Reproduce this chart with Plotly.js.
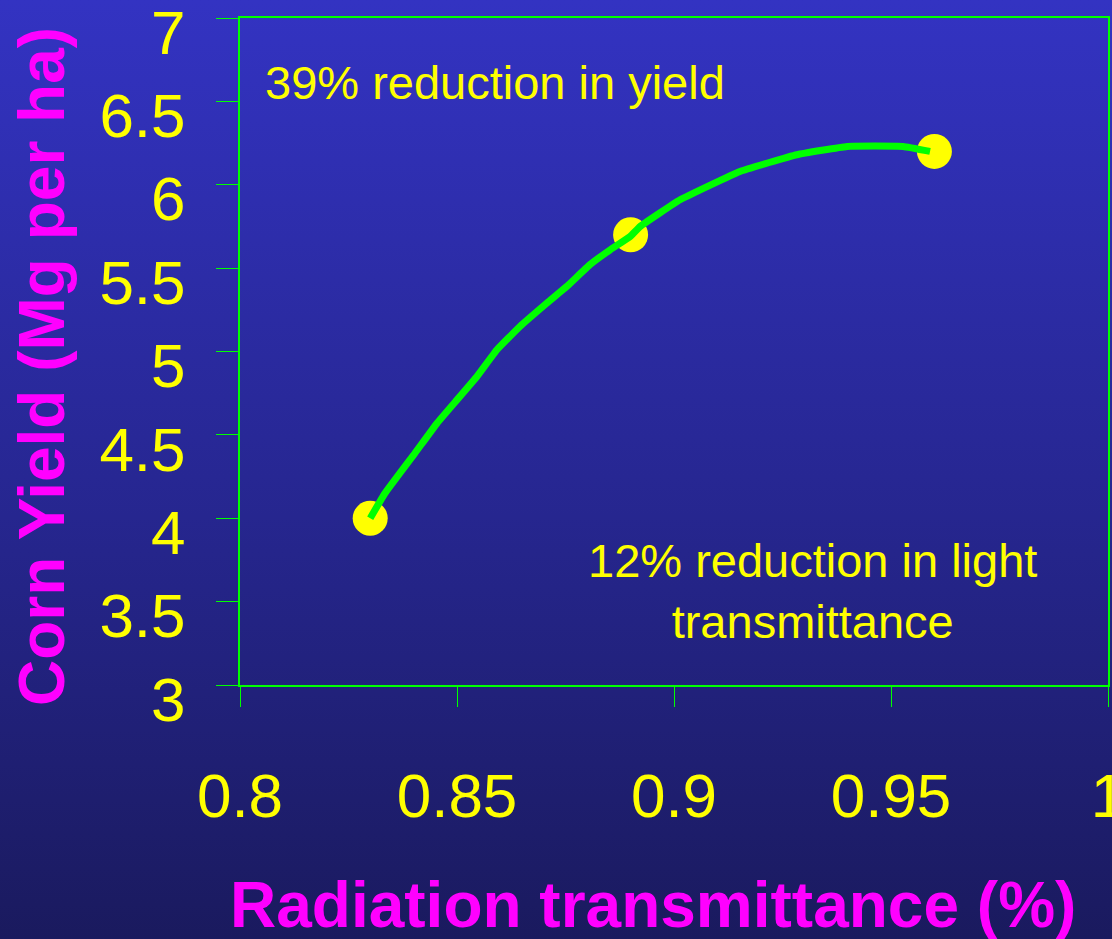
<!DOCTYPE html>
<html>
<head>
<meta charset="utf-8">
<script src="https://cdn.plot.ly/plotly-3.0.1.min.js"></script>
<style>
  html, body { margin: 0; padding: 0; width: 1112px; height: 939px; overflow: hidden; }
  body { background: linear-gradient(to bottom, #3333c2 0%, #26268f 55%, #1a1a5e 100%); }
  #chart { width: 1112px; height: 939px; }
</style>
</head>
<body>
<div id="chart"></div>
<script>
// Measured points (yellow markers)
const pointX = [0.83, 0.89, 0.96];
const pointY = [4.0, 5.7, 6.2];

// Fitted response curve (green line)
const curveX = [0.8300, 0.8334, 0.8403, 0.8454, 0.8500, 0.8546, 0.8592, 0.8645, 0.8707, 0.8753, 0.8806, 0.8853, 0.8899, 0.8922, 0.9014, 0.9152, 0.9283, 0.9399, 0.9528, 0.9590];
const curveY = [4.00, 4.15, 4.39, 4.57, 4.71, 4.85, 5.01, 5.15, 5.29, 5.39, 5.52, 5.61, 5.69, 5.75, 5.91, 6.08, 6.18, 6.23, 6.23, 6.20];

const xTicks = [0.8, 0.85, 0.9, 0.95, 1];
const xTickText = ['0.8', '0.85', '0.9', '0.95', '1'];
const yTicks = [3, 3.5, 4, 4.5, 5, 5.5, 6, 6.5, 7];
const yTickText = ['3', '3.5', '4', '4.5', '5', '5.5', '6', '6.5', '7'];

const xTitle = 'Radiation transmittance (%)';
const yTitle = 'Corn Yield (Mg per ha)';
const note1 = '39% reduction in yield';
const note2 = '12% reduction in light<br>transmittance';

const FONT = 'Liberation Sans, Arial, sans-serif';
const YELLOW = '#ffff00';
const MAGENTA = '#ff00ff';
const GREEN = '#00ff00';

const traces = [
  {
    x: pointX, y: pointY, type: 'scatter', mode: 'markers',
    marker: { color: YELLOW, size: 35, line: { width: 0 } },
    hoverinfo: 'skip', showlegend: false
  },
  {
    x: curveX, y: curveY, type: 'scatter', mode: 'lines',
    line: { color: GREEN, width: 7, shape: 'spline', smoothing: 0.3 },
    hoverinfo: 'skip', showlegend: false
  }
];

const layout = {
  width: 1112, height: 939,
  margin: { l: 240, r: 4, t: 18, b: 254, pad: 0 },
  paper_bgcolor: 'rgba(0,0,0,0)',
  plot_bgcolor: 'rgba(0,0,0,0)',
  showlegend: false,
  xaxis: {
    range: [0.8, 1.0], tickmode: 'array', tickvals: xTicks, ticktext: xTickText,
    showgrid: false, zeroline: false,
    showline: true, linecolor: GREEN, linewidth: 2, mirror: true,
    ticks: 'outside', ticklen: 20, tickwidth: 1, tickcolor: GREEN,
    tickfont: { family: FONT, size: 62, color: YELLOW },
    ticklabelstandoff: 36, ticklabeloverflow: 'allow'
  },
  yaxis: {
    range: [3, 7], tickmode: 'array', tickvals: yTicks, ticktext: yTickText,
    showgrid: false, zeroline: false,
    showline: true, linecolor: GREEN, linewidth: 2, mirror: true,
    ticks: 'outside', ticklen: 22, tickwidth: 1, tickcolor: GREEN,
    tickfont: { family: FONT, size: 62, color: YELLOW },
    ticklabelstandoff: 18, ticklabelshift: 14, ticklabeloverflow: 'allow'
  },
  annotations: [
    {
      x: 0.8053, y: 6.616, xref: 'x', yref: 'y', xanchor: 'left', yanchor: 'middle',
      text: note1, showarrow: false, font: { family: FONT, size: 47, color: YELLOW }
    },
    {
      x: 0.9318, y: 3.564, xref: 'x', yref: 'y', xanchor: 'center', yanchor: 'middle',
      text: note2, showarrow: false, align: 'center',
      font: { family: FONT, size: 47, color: YELLOW }
    },
    {
      x: 0.4758, y: -0.33, xref: 'paper', yref: 'paper', xanchor: 'center', yanchor: 'middle',
      text: '<b>' + xTitle + '</b>', showarrow: false,
      font: { family: FONT, size: 64, color: MAGENTA }
    },
    {
      x: -0.228, y: 0.4768, xref: 'paper', yref: 'paper', xanchor: 'center', yanchor: 'middle',
      text: '<b>' + yTitle + '</b>', showarrow: false, textangle: -90,
      font: { family: FONT, size: 64, color: MAGENTA }
    }
  ]
};

Plotly.newPlot('chart', traces, layout, { displayModeBar: false, staticPlot: true });
</script>
</body>
</html>
